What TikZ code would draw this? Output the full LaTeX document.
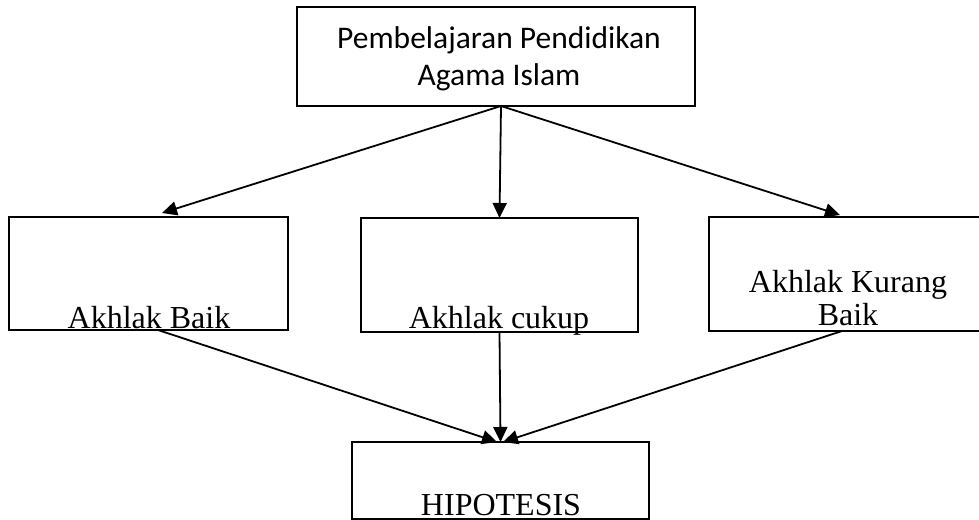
\documentclass[tikz,border=0pt]{standalone}
\usepackage{fontspec}
\setmainfont{Liberation Serif}
\newfontfamily\topfont{Carlito}
\usetikzlibrary{arrows.meta,calc}
\begin{document}
\begin{tikzpicture}[x=1pt,y=-1pt,
  box/.style={draw,line width=1.8pt,inner sep=0pt,outer sep=0pt,rectangle},
  arr/.style={line width=1.8pt,-{Triangle[length=15pt,width=14pt]}},
  lbl/.style={inner sep=0pt,anchor=base,font=\fontsize{32}{33}\selectfont}]
\useasboundingbox (0,0) rectangle (979,519);
\clip (0,0) rectangle (979,519);
% boxes
\node[box,minimum width=398pt,minimum height=99pt] (pai) at (496,56.5) {};
\node[box,minimum width=279pt,minimum height=113pt] (baik) at (148.5,273.5) {};
\node[box,minimum width=277pt,minimum height=114pt] (cukup) at (499.5,275) {};
\node[box,minimum width=291pt,minimum height=114pt] (kurang) at (854.5,274) {};
\node[box,minimum width=297pt,minimum height=77pt] (hip) at (500.5,480.5) {};
% texts
\node[inner sep=0pt,anchor=base,align=center,font=\topfont\fontsize{31.5}{37}\selectfont] (paitxt) at (499,85) {Pembelajaran Pendidikan\\Agama Islam};
\node[lbl] (baiktxt) at (149,328) {Akhlak Baik};
\node[lbl] (cukuptxt) at (499,328) {Akhlak cukup};
\node[lbl,align=center] (kurangtxt) at (848,325) {Akhlak Kurang\\Baik};
\node[lbl] (hiptxt) at (501,515) {HIPOTESIS};
% connectors
\coordinate (s) at ($(pai.south west)+(204,0)$);
\coordinate (tb) at ($(baik.north)+(13.5,-4)$);
\coordinate (tk) at ($(kurang.north)+(-14.5,-2)$);
\draw[arr] (s) -- (tb);
\draw[arr] (s) -- (cukup.north);
\draw[arr] (s) -- (tk);
\coordinate (bb) at ($(baik.south)+(9.5,0)$);
\coordinate (bk) at ($(kurang.south)+(-12.5,0)$);
\coordinate (h1) at ($(hip.north)+(-3.5,0)$);
\coordinate (h3) at ($(hip.north)+(2.5,0)$);
\draw[arr] (bb) -- (h1);
\draw[arr] (cukup.south) -- (hip.north);
\draw[arr] (bk) -- (h3);
\end{tikzpicture}
\end{document}
